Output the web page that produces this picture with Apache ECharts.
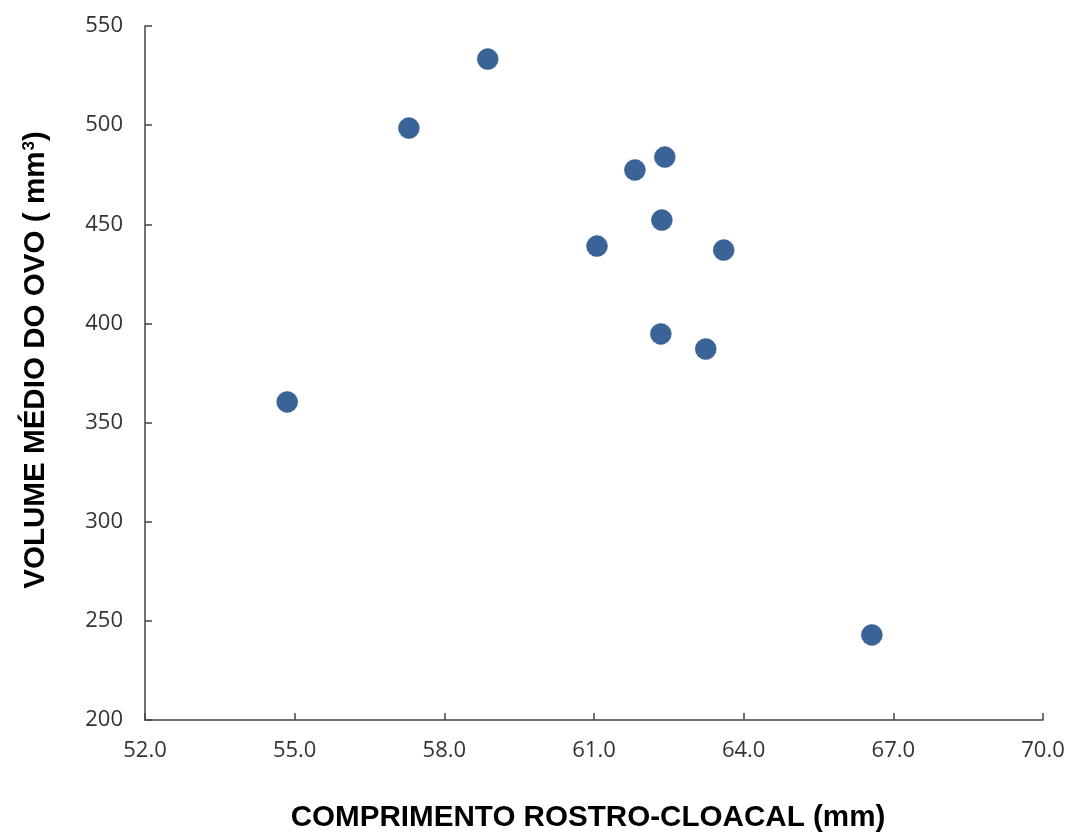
<!DOCTYPE html>
<html>
<head>
<meta charset="utf-8">
<script src="https://cdn.jsdelivr.net/npm/echarts@6/dist/echarts.min.js"></script>
<style>
  html, body { margin: 0; padding: 0; background: #fff; }
  #chart { width: 1070px; height: 836px; }
</style>
</head>
<body>
<div id="chart"></div>
<script>
// Snout-vent length (mm) of each female and mean egg volume (mm³)
const comprimento = [54.85, 57.29, 58.87, 61.82, 62.42, 61.06, 62.36, 63.60, 62.34, 63.24, 66.57];
const volume      = [360.4, 498.5, 533.3, 477.4, 483.9, 439.0, 452.1, 437.0, 394.7, 387.1, 242.9];

const xTitle = 'COMPRIMENTO ROSTRO-CLOACAL (mm)';
const yTitle = 'VOLUME MÉDIO DO OVO ( mm{sup|3})';

const pontos = comprimento.map((c, i) => [c, volume[i]]);

const chart = echarts.init(document.getElementById('chart'), null, { renderer: 'canvas' });

const tickFont = { fontFamily: 'Open Sans', fontSize: 22, color: '#333' };
const titleFont = 'bold 29.6px "Liberation Sans", Arial, sans-serif';

chart.setOption({
  animation: false,
  backgroundColor: '#fff',
  grid: { left: 145, right: 27, top: 26, bottom: 116 },
  xAxis: {
    type: 'value',
    min: 52, max: 70, interval: 3,
    axisLine: { show: true, lineStyle: { color: '#444', width: 1.5 } },
    axisTick: { show: true, inside: true, length: 7, lineStyle: { color: '#444', width: 1.5 } },
    axisLabel: Object.assign({}, tickFont, { margin: 20, formatter: v => v.toFixed(1) }),
    splitLine: { show: false }
  },
  yAxis: {
    type: 'value',
    min: 200, max: 550, interval: 50,
    axisLine: { show: true, lineStyle: { color: '#444', width: 1.5 } },
    axisTick: { show: true, inside: true, length: 7, lineStyle: { color: '#444', width: 1.5 } },
    axisLabel: Object.assign({}, tickFont, { margin: 22 }),
    splitLine: { show: false }
  },
  // Axis titles
  graphic: [
    {
      type: 'text',
      x: 588, y: 818,
      style: {
        text: xTitle,
        font: titleFont,
        fill: '#000',
        align: 'center',
        verticalAlign: 'middle'
      }
    },
    {
      type: 'text',
      x: 36, y: 360,
      rotation: Math.PI / 2,
      style: {
        text: yTitle,
        font: titleFont,
        fill: '#000',
        align: 'center',
        verticalAlign: 'middle',
        rich: {
          sup: { font: 'bold 17px "Liberation Sans", Arial, sans-serif', fill: '#000', verticalAlign: 'top', padding: [0, 0, 12, 1] }
        }
      }
    }
  ],
  series: [{
    type: 'scatter',
    data: pontos,
    symbol: 'circle',
    symbolSize: 21,
    itemStyle: { color: '#3A6398', opacity: 1, borderColor: '#2F5585', borderWidth: 0.5 }
  }]
});
</script>
</body>
</html>
